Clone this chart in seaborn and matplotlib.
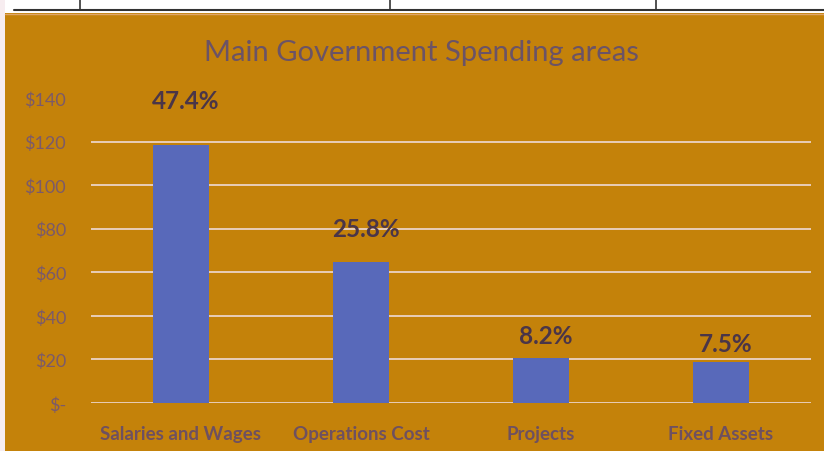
import matplotlib
matplotlib.use("Agg")
import matplotlib.pyplot as plt
from matplotlib.patches import Rectangle
from matplotlib.lines import Line2D
import seaborn as sns
import pandas as pd

# Spending by area (in $), share of total spending shown as labels
categories = ["Salaries and Wages", "Operations Cost", "Projects", "Fixed Assets"]
spending = [118.5, 64.6, 20.5, 18.8]
share_labels = ["47.4%", "25.8%", "8.2%", "7.5%"]
y_ticks = [0, 20, 40, 60, 80, 100, 120, 140]
y_tick_labels = ["$-", "$20", "$40", "$60", "$80", "$100", "$120", "$140"]

# where each share label sits (data units)
label_heights = [139, 80, 31, 27.5]

sns.set_theme(style="white")
plt.rcParams["font.family"] = ["Lato", "DejaVu Sans"]

W, H = 824, 452
fig = plt.figure(figsize=(W / 100, H / 100), dpi=100)
fig.patch.set_facecolor("white")

def fx(px):
    return px / W

def fy(py):
    return 1 - py / H

# spreadsheet strip above the chart
fig.patches.append(Rectangle((0, 0), fx(5), 1, transform=fig.transFigure,
                             facecolor="#f7edf0", edgecolor="none", zorder=0))
fig.lines.append(Line2D([fx(14), 1], [fy(10.5), fy(10.5)], transform=fig.transFigure,
                        color="#333333", lw=1.5))
for xv in [80, 390, 656]:
    fig.lines.append(Line2D([fx(xv), fx(xv)], [fy(0), fy(10.5)], transform=fig.transFigure,
                            color="#333333", lw=1.2))

# chart area
bg = "#c4820a"
fig.patches.append(Rectangle((fx(5), 0), 1 - fx(5), fy(14), transform=fig.transFigure,
                             facecolor=bg, edgecolor="none", zorder=1))
fig.lines.append(Line2D([fx(5), 1], [fy(14.5), fy(14.5)], transform=fig.transFigure,
                        color="#e0a66a", lw=1.0, zorder=2))

ax = fig.add_axes([fx(91), fy(404), fx(811) - fx(91), fy(99) - fy(404)])
ax.set_facecolor("none")
ax.set_zorder(3)

df = pd.DataFrame({"category": categories, "spending": spending})
sns.barplot(data=df, x="category", y="spending", color="#5869ba", width=0.31,
            saturation=1, linewidth=0, edgecolor="none", ax=ax, zorder=3)

ax.set_ylim(0, 140)
ax.set_xlim(-0.5, len(categories) - 0.5)
grid_color = "#ebd3c6"
for t in y_ticks[:-1]:
    ax.axhline(t, color=grid_color, lw=1.3, zorder=2)

ax.set_yticks(y_ticks)
ax.set_yticklabels(y_tick_labels)
ax.tick_params(axis="y", length=0, pad=18, labelsize=13, labelcolor="#7b5a6a")
ax.tick_params(axis="x", length=0, pad=15.5, labelsize=13.5, labelcolor="#6e5060")
for lab in ax.get_xticklabels():
    lab.set_fontweight("bold")
ax.set_xlabel("")
ax.set_ylabel("")
for s in ax.spines.values():
    s.set_visible(False)

for i, (txt, yh) in enumerate(zip(share_labels, label_heights)):
    ax.annotate(txt, (i, yh), xytext=(3.5, 0), textcoords="offset points",
                ha="center", va="center", fontsize=17.5, fontweight="bold",
                color="#4a3548", zorder=4)

fig.text(fx(421), fy(53), "Main Government Spending areas", ha="center", va="center",
         fontsize=21, color="#6b5366", zorder=5)

fig.savefig("out.png", dpi=100, facecolor=fig.get_facecolor())
